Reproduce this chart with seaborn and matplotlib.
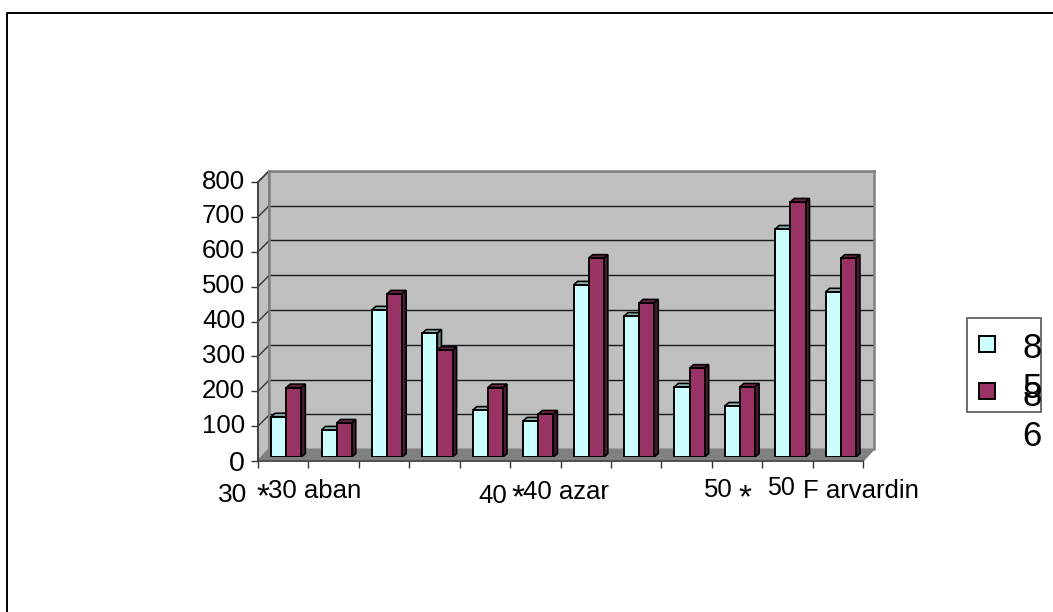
import numpy as np
import pandas as pd
import seaborn as sns
import matplotlib.pyplot as plt
from matplotlib.patches import Polygon, Rectangle
from matplotlib.transforms import ScaledTranslation

# values
groups = list(range(12))
series_85 = [116, 78, 424, 357, 135, 104, 496, 406, 202, 147, 657, 476]
series_86 = [200, 98, 470, 308, 200, 124, 573, 444, 256, 202, 735, 573]
series_names = ["8\n5", "8\n6"]
y_ticks = [0, 100, 200, 300, 400, 500, 600, 700, 800]
x_labels = ["30", "*", "30 aban", "40", "*", "40 azar", "50", "*", "50", "F arvardin"]

W, H = 1053, 612
CYAN, CYAN_TOP, CYAN_SIDE = "#CCFFFF", "#8FB3B3", "#668080"
RED, RED_TOP, RED_SIDE = "#993366", "#6B2447", "#4D1A33"
WALL, FLOOR = "#C0C0C0", "#808080"

sns.set_theme(style="white")
plt.rcParams["font.family"] = ["Liberation Sans", "DejaVu Sans"]

df = pd.DataFrame({
    "group": groups * 2,
    "value": series_85 + series_86,
    "series": ["85"] * 12 + ["86"] * 12,
})


def px_axes(left, top, right, bottom, **kw):
    return fig.add_axes([left / W, 1 - bottom / H, (right - left) / W, (bottom - top) / H], **kw)


fig = plt.figure(figsize=(W / 100, H / 100), dpi=100, facecolor="white")

# ── pixel layer: outer frame, side wall, floor ────────────────────────────
bg = px_axes(0, 0, W, H, zorder=0)
bg.set_xlim(0, W)
bg.set_ylim(H, 0)
bg.axis("off")
bg.plot([7, 7, W], [H, 13, 13], color="black", lw=1.4, clip_on=False)
bg.add_patch(Polygon([(258, 182), (269, 171), (269, 449), (258, 461)],
                     facecolor=WALL, edgecolor=FLOOR, lw=1.2))
bg.add_patch(Polygon([(258, 461), (269, 449), (874, 449), (863, 461)],
                     facecolor=FLOOR, edgecolor=FLOOR, lw=1))

# back wall
back = px_axes(269, 171, 874, 449, zorder=1, facecolor=WALL)
back.set_xlim(0, 1)
back.set_ylim(0, 800)
back.set_xticks([])
back.set_yticks(y_ticks)
back.tick_params(left=False, labelleft=False)
back.grid(axis="y", color="#1a1a1a", lw=1)
back.set_axisbelow(True)
for side in back.spines.values():
    side.set_color(FLOOR)
    side.set_linewidth(1.8)
back.spines["bottom"].set_visible(False)

# diagonal tick joints from front axis to back wall
for v in y_ticks[1:]:
    y0 = 461 - v * 279 / 800
    bg.plot([258, 269], [y0, y0 - 11], color="#333333", lw=1)
bg.plot([863, 874], [461, 449], color=FLOOR, lw=1)

# front axis with the real tick labels
front = px_axes(258, 182, 863, 461, zorder=2, facecolor="none")
front.set_xlim(0, 12)
front.set_ylim(0, 800)
front.set_xticks(range(13))
front.set_yticks(y_ticks)
front.set_xticklabels([])
front.tick_params(axis="y", labelsize=18.5, left=True, length=5, width=1, color="#333333",
                  pad=4.3, labelcolor="black")
front.tick_params(axis="x", bottom=True, length=5, width=1, color="#333333")
sns.despine(ax=front)
front.spines["left"].set_color("#444444")
front.spines["left"].set_linewidth(1.4)
front.spines["bottom"].set_color("#444444")
front.spines["bottom"].set_linewidth(1.2)

# labels sit a little above their ticks in the original, the 0 is larger
fig.canvas.draw()
for v, lab in zip(y_ticks, front.get_yticklabels()):
    if v == 0:
        lab.set_fontsize(20.5)
    else:
        lab.set_transform(lab.get_transform() + ScaledTranslation(0, 3 / 100, fig.dpi_scale_trans))

# ── bars ──────────────────────────────────────────────────────────────────
ax = px_axes(261, 179.4, 866, 457, zorder=3, facecolor="none")
sns.barplot(data=df, x="group", y="value", hue="series", order=groups,
            palette=[CYAN, RED], saturation=1, width=0.6, gap=0, dodge=True,
            edgecolor="black", linewidth=1.4, legend=False, ax=ax)
ax.set_xlim(-0.5, 11.5)
ax.set_ylim(0, 800)
ax.axis("off")

# fake 3D faces on each bar, offset in pixels converted to data units
dx = 4 * 12 / 605
dy = 3.5 * 800 / 277.6
faces = [(CYAN_TOP, CYAN_SIDE, 3), (RED_TOP, RED_SIDE, 5)]
for container, (top_c, side_c, z) in zip(ax.containers, faces):
    for bar in container:
        x, w, h = bar.get_x(), bar.get_width(), bar.get_height()
        bar.set_zorder(z + 1)
        ax.add_patch(Polygon([(x, h), (x + dx, h + dy), (x + w + dx, h + dy), (x + w, h)],
                             facecolor=top_c, edgecolor="black", lw=1.2, zorder=z))
        ax.add_patch(Polygon([(x + w, 0), (x + w + dx, dy), (x + w + dx, h + dy), (x + w, h)],
                             facecolor=side_c, edgecolor="black", lw=1.2, zorder=z))

# ── category labels, scattered as in the original ─────────────────────────
label_pos = [(218, 502), (256, 506), (268, 498), (478, 503), (511, 507), (523, 499),
             (704, 497), (738, 507), (767, 495), (803, 498)]
label_size = [19, 24, 18.5, 18.5, 24, 18.5, 18.5, 24, 18, 18.5]
top_layer = px_axes(0, 0, W, H, zorder=6, facecolor="none")
top_layer.set_xlim(0, W)
top_layer.set_ylim(H, 0)
top_layer.axis("off")
for text, (x, y), size in zip(x_labels, label_pos, label_size):
    top_layer.text(x, y, text, fontsize=size, ha="left", va="baseline", color="black")

# ── legend ────────────────────────────────────────────────────────────────
top_layer.add_patch(Rectangle((967, 318), 74, 94, facecolor="white", edgecolor="#555555", lw=1.2))
for y, color, name, ty in zip([336, 383], [CYAN, RED], series_names, [332, 380]):
    top_layer.add_patch(Rectangle((979, y), 16, 16, facecolor=color, edgecolor="black", lw=1.4))
    top_layer.text(1042, ty, name, fontsize=25, ha="right", va="top", linespacing=1.25,
                   color="black", clip_on=False)

fig.savefig("out.png", dpi=100, facecolor="white")
